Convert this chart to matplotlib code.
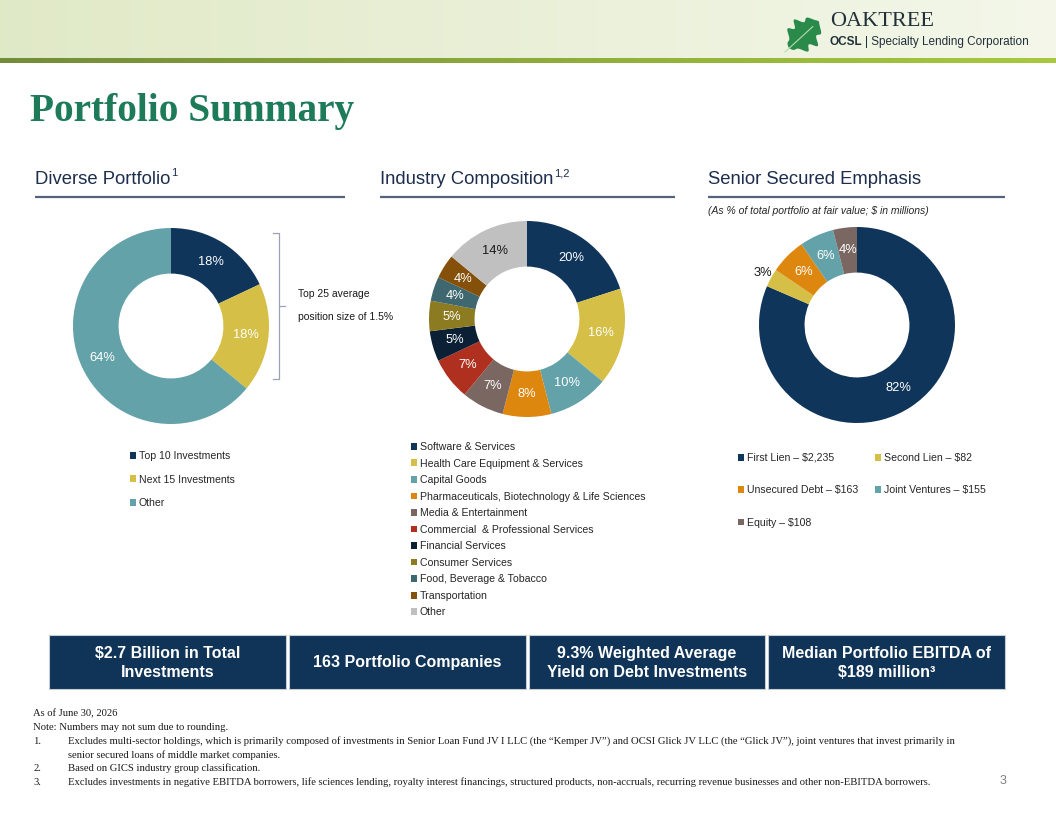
import numpy as np
import matplotlib.pyplot as plt
from matplotlib.patches import Rectangle, Polygon

W, H = 1056, 816

# dati dei tre grafici
div_labels = ['Top 10 Investments', 'Next 15 Investments', 'Other']
div_pct = [18, 18, 64]
div_colors = ['#10355a', '#d5bf46', '#64a2aa']

ind_labels = ['Software & Services', 'Health Care Equipment & Services', 'Capital Goods',
              'Pharmaceuticals, Biotechnology & Life Sciences', 'Media & Entertainment',
              'Commercial  & Professional Services', 'Financial Services', 'Consumer Services',
              'Food, Beverage & Tobacco', 'Transportation', 'Other']
ind_pct = [20, 16, 10, 8, 7, 7, 5, 5, 4, 4, 14]
ind_colors = ['#10355a', '#d5bf46', '#64a2aa', '#de870f', '#7a6761', '#b0301f',
              '#0b1f35', '#8c7b20', '#3e6770', '#85500a', '#c0c0c0']

sen_labels = ['First Lien – $2,235', 'Second Lien – $82', 'Unsecured Debt – $163',
              'Joint Ventures – $155', 'Equity – $108']
sen_val = [2235, 82, 163, 155, 108]
sen_pct = [82, 3, 6, 6, 4]
sen_colors = ['#10355a', '#d5bf46', '#de870f', '#64a2aa', '#7a6761']

box_txt = ['$2.7 Billion in Total\nInvestments', '163 Portfolio Companies',
           '9.3% Weighted Average\nYield on Debt Investments',
           'Median Portfolio EBITDA of\n$189 million³']

note_lines = ['As of June 30, 2026',
              'Note: Numbers may not sum due to rounding.']
foot_num = ['1.', '', '2.', '3.']
foot_txt = ['Excludes multi-sector holdings, which is primarily composed of investments in Senior Loan Fund JV I LLC '
            '(the “Kemper JV”) and OCSI Glick JV LLC (the “Glick JV”), joint ventures that invest primarily in',
            'senior secured loans of middle market companies.',
            'Based on GICS industry group classification.',
            'Excludes investments in negative EBITDA borrowers, life sciences lending, royalty interest financings, '
            'structured products, non-accruals, recurring revenue businesses and other non-EBITDA borrowers.']

SANS = 'Liberation Sans'
SERIF = 'Liberation Serif'


def px(x0, y0, w, h):
    return [x0 / W, 1 - (y0 + h) / H, w / W, h / H]


fig = plt.figure(figsize=(W / 100, H / 100), dpi=100)
bg = fig.add_axes([0, 0, 1, 1])
bg.axis('off')
rend = fig.canvas.get_renderer()

# fascia in alto
g = np.linspace(0, 1, 256)[:, None]
c0 = np.array([0.88, 0.915, 0.78])
c1 = np.array([0.955, 0.968, 0.915])
bg.imshow((c0 + (c1 - c0) * g)[None, :, :], extent=[0, W, 58, 0], aspect='auto', zorder=0)
s0 = np.array([0.45, 0.55, 0.22])
s1 = np.array([0.66, 0.79, 0.24])
bg.imshow((s0 + (s1 - s0) * g)[None, :, :], extent=[0, W, 63, 58], aspect='auto', zorder=0)
bg.set_xlim(0, W)
bg.set_ylim(H, 0)

# foglia del logo
u = np.linspace(0, 1, 300)
hw = 0.36 * np.sin(np.pi * u) ** 0.7 * (1 + 0.25 * np.cos(2 * np.pi * 3.5 * u))
ang = np.deg2rad(-42)
L = 40
xs = np.concatenate([u, u[::-1]]) * L
ys = np.concatenate([hw, -hw[::-1]]) * L
rx = 789 + xs * np.cos(ang) - ys * np.sin(ang)
ry = 48 + xs * np.sin(ang) + ys * np.cos(ang)
bg.add_patch(Polygon(np.column_stack([rx, ry]), closed=True, color='#2a8a4a', lw=0, zorder=2))
bg.plot([785, 789 + 0.8 * L * np.cos(ang)], [52, 48 + 0.8 * L * np.sin(ang)],
        color='#b9dbb0', lw=0.8, zorder=3)
bg.text(830, 22, 'OAKTREE', fontsize=16, family=SERIF, color='#22303a', va='center', ha='left')
t = bg.text(830, 42, 'OCSL', fontsize=8.5, family=SANS, weight='bold', color='#22303a',
            va='center', ha='left')
x1 = t.get_window_extent(rend).x1
bg.text(x1 + 2, 42, '| Specialty Lending Corporation', fontsize=8.5, family=SANS,
        color='#22303a', va='center', ha='left')

# titolo
bg.text(30, 121, 'Portfolio Summary', fontsize=28.4, family=SERIF, weight='bold',
        color='#1d7b5a', va='baseline', ha='left')

# titoli delle sezioni
sez = [(35, 345, 'Diverse Portfolio', '1'), (380, 675, 'Industry Composition', '1,2'),
       (708, 1005, 'Senior Secured Emphasis', '')]
for xa, xb, s, sup in sez:
    t = bg.text(xa, 184, s, fontsize=13.3, family=SANS, color='#1c2d4d', va='baseline', ha='left')
    if sup:
        x1 = t.get_window_extent(rend).x1
        bg.text(x1 + 1, 176, sup, fontsize=8, family=SANS, color='#1c2d4d', va='baseline', ha='left')
    bg.plot([xa, xb], [197, 197], color='#53647a', lw=1.6, solid_capstyle='butt')

bg.text(708, 211, '(As % of total portfolio at fair value; $ in millions)', fontsize=7.5,
        family=SANS, style='italic', color='#262626', va='center', ha='left')


def ciambella(cx, cy, r, vals, cols, pct, txtcol, dist):
    ax = fig.add_axes(px(cx - r, cy - r, 2 * r, 2 * r))
    wedges, _ = ax.pie(vals, colors=cols, startangle=90, counterclock=False,
                       wedgeprops=dict(width=0.465, linewidth=0))
    ax.set_xlim(-1, 1)
    ax.set_ylim(-1, 1)
    ax.axis('off')
    for i, w in enumerate(wedges):
        a = np.deg2rad((w.theta1 + w.theta2) / 2)
        ax.text(dist[i] * np.cos(a), dist[i] * np.sin(a), f'{pct[i]}%', ha='center', va='center',
                fontsize=9.3, family=SANS, color=txtcol[i], clip_on=False)
    return wedges


w1 = ciambella(171, 326, 98, div_pct, div_colors, div_pct, ['white'] * 3, [0.77] * 3)
w2 = ciambella(527, 319, 98, ind_pct, ind_colors, ind_pct,
               ['white'] * 10 + ['#1a1a1a'], [0.77] * 11)
w3 = ciambella(857, 325, 98, sen_val, sen_colors, sen_pct,
               ['white', '#1a1a1a', 'white', 'white', 'white'], [0.77, 1.1, 0.77, 0.77, 0.77])

# parentesi top 25
bc = '#9aa3b5'
bg.plot([273, 279, 279, 273], [233, 233, 379, 379], color=bc, lw=0.9)
bg.plot([279, 285], [306, 306], color=bc, lw=0.9)
bg.text(298, 294, 'Top 25 average', fontsize=7.5, family=SANS, color='#1a1a1a', va='center')
bg.text(298, 317, 'position size of 1.5%', fontsize=7.5, family=SANS, color='#1a1a1a', va='center')

# legende
leg_kw = dict(loc='upper left', frameon=False, borderpad=0, borderaxespad=0,
              handlelength=0.6, handleheight=0.6, handletextpad=0.25,
              prop=dict(family=SANS, size=7.6), labelcolor='#262626')
fig.legend(w1, div_labels, bbox_to_anchor=(130 / W, 1 - 451 / H), labelspacing=1.28, **leg_kw)
fig.legend(w2, ind_labels, bbox_to_anchor=(411 / W, 1 - 442 / H), labelspacing=0.62, **leg_kw)
order = [0, 2, 4, 1, 3]
fig.legend([w3[i] for i in order], [sen_labels[i] for i in order], ncol=2,
           bbox_to_anchor=(738 / W, 1 - 453 / H), labelspacing=2.12, columnspacing=1.55, **leg_kw)

# riquadri in basso
bx = [(49, 286), (289, 526), (529, 765), (768, 1005)]
for (xa, xb), s in zip(bx, box_txt):
    bg.add_patch(Rectangle((xa, 635), xb - xa, 54, facecolor='#0f3457', edgecolor='#c5cad3', lw=0.8))
    bg.text((xa + xb) / 2, 663, s, ha='center', va='center', fontsize=11.5, family=SANS,
            weight='bold', color='white', linespacing=1.38)

# note
fy = 714
for s in note_lines:
    bg.text(33, fy, s, fontsize=7.7, family=SERIF, color='#1a1a1a', va='center')
    fy += 13.6
for n, s in zip(foot_num, foot_txt):
    bg.text(33, fy, n, fontsize=7.7, family=SERIF, color='#1a1a1a', va='center')
    bg.text(68, fy, s, fontsize=7.7, family=SERIF, color='#1a1a1a', va='center')
    fy += 13.6
bg.text(1006, 781, '3', fontsize=9, family=SANS, color='#7f7f7f', va='center', ha='right')

fig.savefig('out.png', dpi=100)
